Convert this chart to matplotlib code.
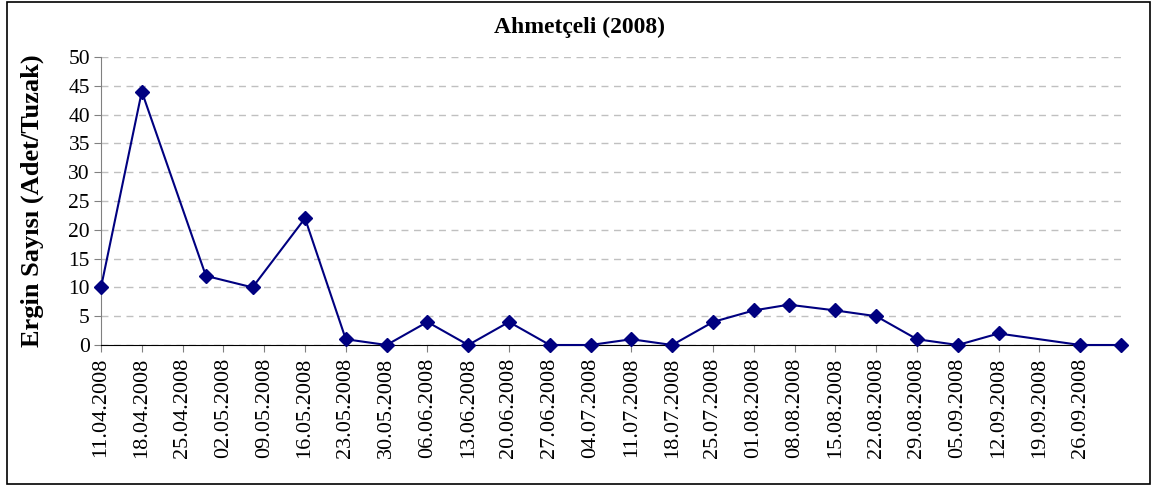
import matplotlib
matplotlib.use("Agg")
import matplotlib.pyplot as plt
from matplotlib.patches import Rectangle
import datetime as dt

title = "Ahmetçeli (2008)"
ylabel = "Ergin Sayısı (Adet/Tuzak)"

dates = ["11.04.2008", "18.04.2008", "29.04.2008", "07.05.2008", "16.05.2008",
         "23.05.2008", "30.05.2008", "06.06.2008", "13.06.2008", "20.06.2008",
         "27.06.2008", "04.07.2008", "11.07.2008", "18.07.2008", "25.07.2008",
         "01.08.2008", "07.08.2008", "15.08.2008", "22.08.2008", "29.08.2008",
         "05.09.2008", "12.09.2008", "26.09.2008", "03.10.2008"]
values = [10, 44, 12, 10, 22, 1, 0, 4, 0, 4, 0, 0, 1, 0, 4, 6, 7, 6, 5, 1, 0, 2, 0, 0]

tick_start = "11.04.2008"
tick_end = "03.10.2008"
y_ticks = [0, 5, 10, 15, 20, 25, 30, 35, 40, 45, 50]

plt.rcParams['font.family'] = ['Liberation Serif', 'DejaVu Serif']

def parse(s):
    return dt.datetime.strptime(s, "%d.%m.%Y")

x = [parse(d) for d in dates]

fig = plt.figure(figsize=(11.54, 4.86), dpi=100)
ax = fig.add_axes([101/1154, 1 - 345/486, (1121 - 101)/1154, (345 - 57)/486])

ax.plot(x, values, color="#000080", linewidth=1.5, marker="D", markersize=7,
        markerfacecolor="#000080", markeredgecolor="#000080", zorder=3, clip_on=False)

# weekly ticks
t0 = parse(tick_start)
t1 = parse(tick_end)
ticks = []
t = t0
while t <= t1:
    ticks.append(t)
    t += dt.timedelta(days=7)
labels = [tt.strftime("%d.%m.%Y") for tt in ticks]
labels[-1] = ""
ax.set_xticks(ticks)
ax.set_xticklabels(labels, rotation=90, fontsize=16)
ax.set_xlim(t0, t1)

ax.set_ylim(0, 50)
ax.set_yticks(y_ticks)
ax.set_yticklabels([str(v) for v in y_ticks], fontsize=15.5)

ax.yaxis.grid(True, linestyle=(0, (5, 4)), color="#c0c0c0", linewidth=1)
ax.set_axisbelow(True)
for s in ["top", "right"]:
    ax.spines[s].set_visible(False)
ax.spines["left"].set_color("#808080")
ax.spines["bottom"].set_color("#000000")
ax.tick_params(axis="y", direction="out", length=5, color="#808080", pad=3)
ax.tick_params(axis="x", direction="out", length=5, color="#808080", pad=4)

ax.set_ylabel(ylabel, fontsize=19, fontweight="bold")
ax.yaxis.set_label_coords(-(101 - 44)/1020, 0.5)

fig.text(580/1154, 1 - 27/486, title, ha="center", va="center", fontsize=17, fontweight="bold")

fig.patches.append(Rectangle((7/1154, 2/486), (1150 - 7)/1154, (484 - 2)/486,
                             transform=fig.transFigure, fill=False, edgecolor="black", linewidth=1.2))

fig.savefig("out.png", dpi=100)
